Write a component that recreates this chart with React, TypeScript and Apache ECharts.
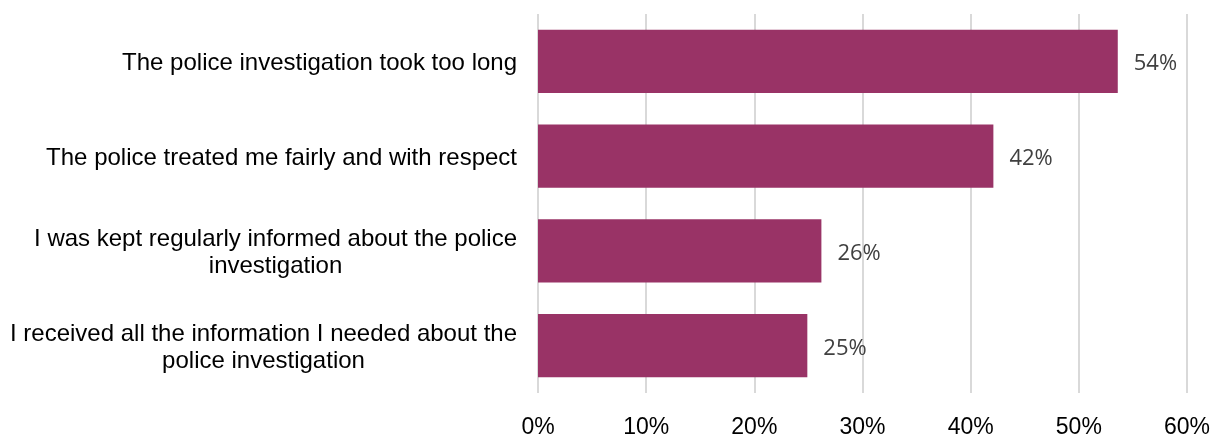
import React, { useEffect, useRef } from "react";
import * as echarts from "echarts";

const categories = [
  "The police investigation took too long",
  "The police treated me fairly and with respect",
  "I was kept regularly informed about the police\ninvestigation",
  "I received all the information I needed about the\npolice investigation",
];
const values = [53.6, 42.1, 26.2, 24.9];
const xTicks = [0, 10, 20, 30, 40, 50, 60];

export default function App() {
  const ref = useRef<HTMLDivElement>(null);
  useEffect(() => {
    document.body.style.margin = "0";
    const chart = echarts.init(ref.current!, null, { renderer: "svg" });
    chart.setOption({
      animation: false,
      grid: { left: 538, right: 32, top: 14, bottom: 39, containLabel: false },
      xAxis: {
        type: "value",
        min: xTicks[0],
        max: xTicks[xTicks.length - 1],
        interval: 10,
        axisLine: { show: false },
        axisTick: { show: false },
        splitLine: { show: true, lineStyle: { color: "#d9d9d9", width: 2 } },
        axisLabel: {
          formatter: (v: number) => `${v}%`,
          fontFamily: "Liberation Sans, Arial, sans-serif",
          fontSize: 23,
          color: "#000",
          margin: 21,
        },
      },
      yAxis: {
        type: "category",
        data: categories,
        inverse: true,
        axisLine: { show: false },
        axisTick: { show: false },
        axisLabel: {
          margin: 21,
          formatter: (v: string) =>
            v
              .split("\n")
              .map((line) => `{c|${line}}`)
              .join("\n"),
          rich: {
            c: {
              align: "center",
              fontFamily: "Liberation Sans, Arial, sans-serif",
              fontSize: 24,
              color: "#000",
              lineHeight: 27,
            },
          },
        },
      },
      series: [
        {
          type: "bar",
          data: values,
          barCategoryGap: "33.3%",
          itemStyle: { color: "#993366" },
          label: {
            show: true,
            position: "right",
            distance: 16,
            formatter: (p: any) => `${Math.round(p.value)}%`,
            fontFamily: "Open Sans, Noto Sans, sans-serif",
            fontSize: 22,
            color: "#404040",
          },
        },
      ],
    });
    return () => chart.dispose();
  }, []);
  return (
    <div
      ref={ref}
      style={{ position: "fixed", left: 0, top: 0, width: 1219, height: 437 }}
    />
  );
}
